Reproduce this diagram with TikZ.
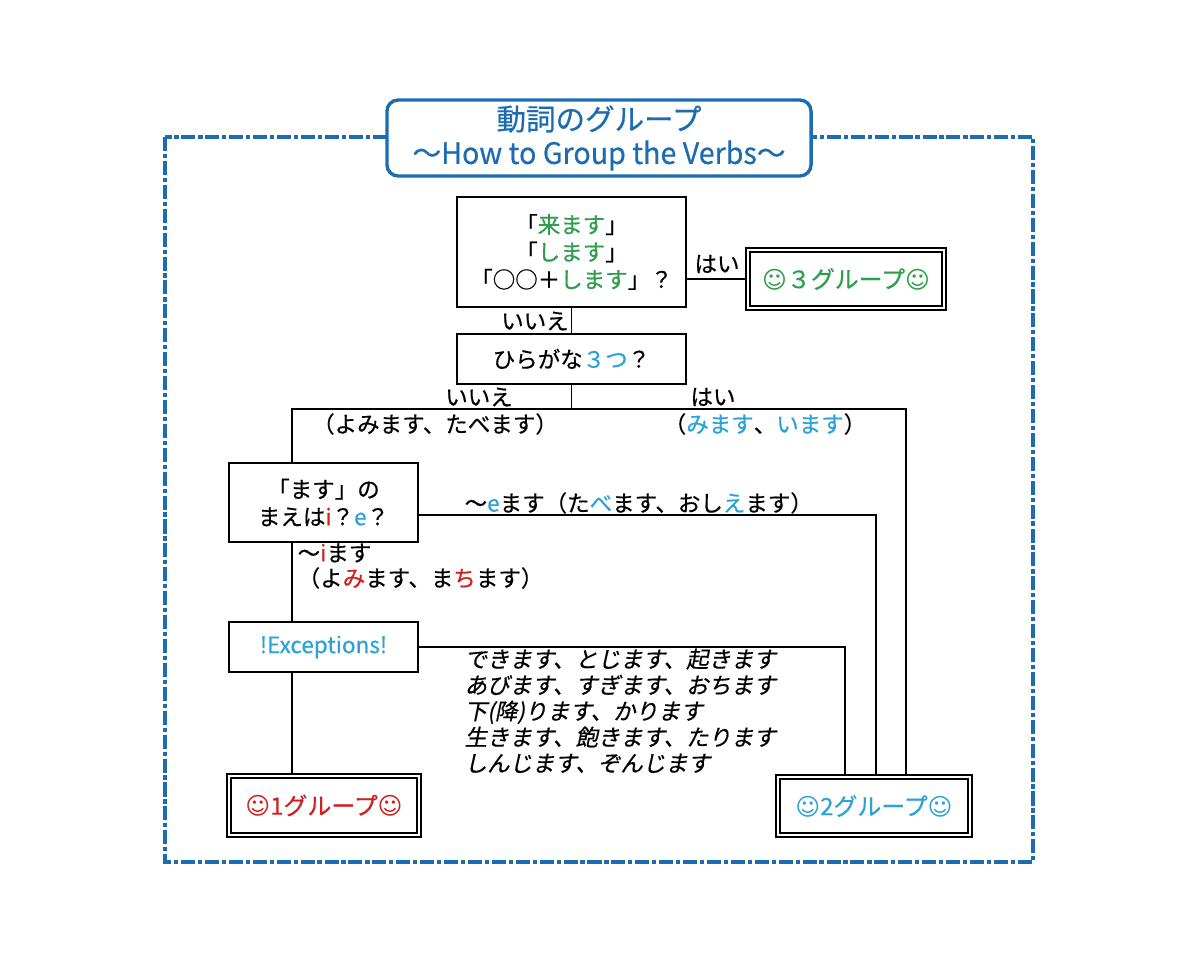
\documentclass[tikz,border=0pt]{standalone}
\usepackage{fontspec}
\setmainfont{Noto Sans CJK JP}[FakeBold=0.5]
\newfontfamily\jpslant{Noto Sans CJK JP}[FakeSlant=0.2, FakeBold=0.5]
\newfontfamily\symfont{DejaVu Sans}
\usepackage{xcolor}
\usetikzlibrary{positioning}

\definecolor{frameblue}{HTML}{1B6CB0}
\definecolor{grpgreen}{HTML}{2E9E4A}
\definecolor{grpblue}{HTML}{2BA3D9}
\definecolor{grpred}{HTML}{D0201F}

\newcommand{\happyface}{{\symfont\char"263A}}

\begin{document}
\begin{tikzpicture}[
    x=0.025cm, y=-0.025cm,
    every node/.style={font=\fontsize{16}{19.5}\selectfont},
    qbox/.style={rectangle, draw, line width=1.3pt, fill=white,
                 align=center, inner sep=2pt},
    grpbox/.style={rectangle, draw, double, double distance=1.8pt,
                   line width=1.2pt, fill=white, inner sep=2pt,
                   font=\fontsize{17}{20}\selectfont},
    titlebox/.style={rectangle, rounded corners=8pt, draw=frameblue,
                     line width=2.4pt, fill=white, text=frameblue,
                     align=center, font=\fontsize{21}{24}\selectfont},
    frameline/.style={draw=frameblue, line width=2.4pt,
                      dash pattern=on 10pt off 2pt on 3pt off 2pt},
    link/.style={line width=1.3pt},
    lbl/.style={inner sep=1pt}
]
\path[fill=white, use as bounding box] (0,0) rectangle (1200,960);

% outer frame and title
\draw[frameline] (165,137) rectangle (1033,862);
\node[titlebox, minimum width=10.6cm, minimum height=1.9cm] (title) at (599,138)
    {動詞のグループ\\\scalebox{0.97}[1]{～How to Group the Verbs～}};

% question boxes
\node[qbox, minimum width=5.725cm, minimum height=2.75cm] (kuru) at (571.5,252)
    {「\textcolor{grpgreen}{来ます}」\\「\textcolor{grpgreen}{します}」\\「○○＋\textcolor{grpgreen}{します}」？};
\node[qbox, minimum width=5.725cm, minimum height=1.25cm] (hira) at (571.5,359)
    {ひらがな\textcolor{grpblue}{３つ}？};
\node[qbox, minimum width=4.725cm, minimum height=1.975cm] (masu) at (323.5,502.5)
    {「ます」の\\まえは\textcolor{grpred}{i}？\textcolor{grpblue}{e}？};
\node[qbox, minimum width=4.725cm, minimum height=1.25cm, text=grpblue] (exc) at (323.5,647)
    {!Exceptions!};

% group boxes
\node[grpbox, minimum width=4.9cm, minimum height=1.45cm, text=grpgreen] (grp3) at (846,279)
    {\happyface３グループ\happyface};
\node[grpbox, minimum width=4.75cm, minimum height=1.475cm, text=grpred] (grp1) at (324,805.5)
    {\happyface1グループ\happyface};
\node[grpbox, minimum width=4.8cm, minimum height=1.45cm, text=grpblue] (grp2) at (874,806)
    {\happyface2グループ\happyface};

% bends
\coordinate (split) at (571.5,409);
\coordinate (left) at (292,409);
\coordinate (right) at (906,409);
\coordinate (ebend) at (876,515);
\coordinate (xbend) at (845,647);

% connectors
\draw[link] (kuru.east |- grp3.west) -- (grp3.west);
\draw[link] (kuru.south) -- (hira.north);
\draw[link] (hira.south) -- (split);
\draw[link] (left |- masu.north) -- (left) -- (right) -- (right |- grp2.north);
\draw[link] (masu.east |- ebend) -- (ebend) -- (ebend |- grp2.north);
\draw[link] (left |- masu.south) -- (left |- exc.north);
\draw[link] (exc.east) -- (xbend) -- (xbend |- grp2.north);
\draw[link] (left |- exc.south) -- (left |- grp1.north);

% labels
\node[lbl] (yes1) at (717,264) {はい};
\node[lbl] (no1) at (535,321) {いいえ};
\node[lbl] (no2) at (479,397) {いいえ};
\node[lbl] (yes2) at (713,397) {はい};
\node[lbl] (noex) at (435,424) {（よみます、たべます）};
\node[lbl] (yesex) at (765,424)
    {（\textcolor{grpblue}{みます}、\textcolor{grpblue}{います}）};
\node[lbl, anchor=west] (eroute) at (463,503)
    {～\textcolor{grpblue}{e}ます（た\textcolor{grpblue}{べ}ます、おし\textcolor{grpblue}{え}ます）};
\node[lbl, anchor=west] (iroute) at (296,553) {～\textcolor{grpred}{i}ます};
\node[lbl, anchor=west] (iex) at (296,578)
    {（よ\textcolor{grpred}{み}ます、ま\textcolor{grpred}{ち}ます）};
\node[lbl, anchor=north west, align=left, font=\jpslant\fontsize{16}{18.5}\selectfont] (exlist) at (463,647)
    {できます、とじます、起きます\\あびます、すぎます、おちます\\下(降)ります、かります\\生きます、飽きます、たります\\しんじます、ぞんじます};

\end{tikzpicture}
\end{document}
